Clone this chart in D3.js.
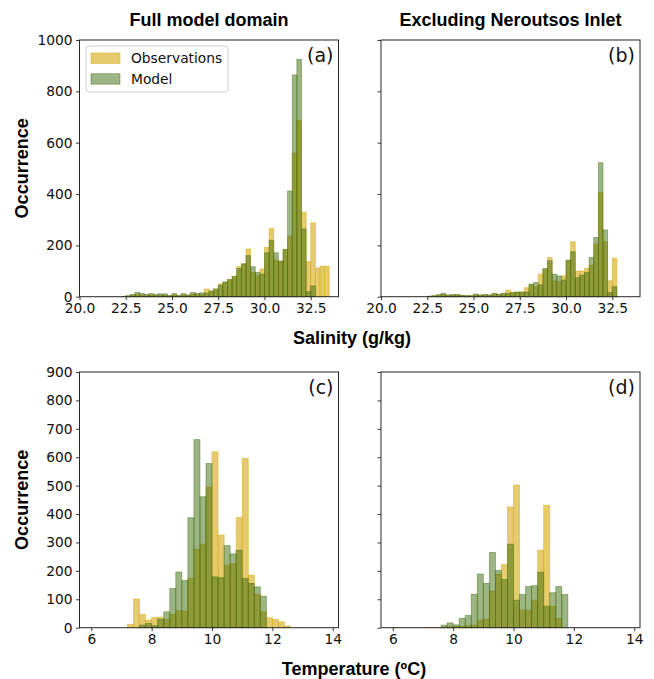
<!DOCTYPE html>
<html><head><meta charset="utf-8">
<script src="https://cdn.jsdelivr.net/npm/d3@7"></script>
<style>
html,body{margin:0;padding:0;background:#fff;}
</style></head>
<body><svg id="c" width="654" height="679"></svg>
<script>
// ---------- data ----------
const salBins = [22.25,22.5,22.75,23.0,23.25,23.5,23.75,24.0,24.25,24.5,24.75,25.0,25.25,25.5,25.75,26.0,26.25,26.5,26.75,27.0,27.25,27.5,27.75,28.0,28.25,28.5,28.75,29.0,29.25,29.5,29.75,30.0,30.25,30.5,30.75,31.0,31.25,31.5,31.75,32.0,32.25,32.5,32.75,33.0,33.25];
const salObsFull = [0,2,5,8,6,4,6,4,6,5,3,8,3,6,4,10,9,8,30,22,30,50,55,65,80,117,128,186,95,82,108,192,266,143,136,184,236,560,688,329,137,288,112,119,119];
const salModFull = [1,4,9,17,13,9,12,9,11,11,5,12,5,12,7,16,13,15,14,22,30,45,58,67,78,110,128,160,117,95,88,171,220,171,139,184,412,864,925,264,20,42,0,0,0];
const salObsExcl = [0,1,3,6,10,5,6,7,5,3,3,8,5,7,5,10,8,11,26,16,18,18,35,46,39,88,106,153,62,58,81,140,214,100,100,110,123,205,405,214,62,150,0,0,0];
const salModExcl = [0,2,4,8,13,7,8,9,6,4,4,10,7,9,7,13,10,13,13,16,18,18,18,49,55,46,110,140,88,81,65,143,175,74,84,94,153,231,522,260,16,39,0,0,0];

const tempBins = [6.0,6.2,6.4,6.6,6.8,7.0,7.2,7.4,7.6,7.8,8.0,8.2,8.4,8.6,8.8,9.0,9.2,9.4,9.6,9.8,10.0,10.2,10.4,10.6,10.8,11.0,11.2,11.4,11.6,11.8,12.0,12.2,12.4,12.6,12.8,13.0,13.2,13.4,13.6];
const tempObsFull = [0,0,0,0,0,0,12,101,47,27,36,37,29,47,60,59,173,276,294,495,619,326,220,226,388,596,185,118,56,35,29,21,6,0,0,0,0,0,0];
const tempModFull = [0,0,0,0,0,0,0,0,9,15,7,30,56,138,196,166,387,662,461,578,179,176,289,260,273,173,156,144,111,0,0,0,0,0,0,0,0,0,0];
const tempObsExcl = [1,0,0,0,0,1,1,1,2,3,4,5,7,9,26,30,129,189,223,425,502,62,62,97,273,431,76,33,0,0,0,0,0,0,0,0,0,0,0];
const tempModExcl = [0,0,0,0,0,0,0,0,9,17,10,33,43,118,189,156,265,202,170,294,97,117,145,148,195,76,123,145,117,0,0,0,0,0,0,0,0,0,0];

const salTicks = [20.0,22.5,25.0,27.5,30.0,32.5];
const tempTicks = [6,8,10,12,14];
const occTicksTop = [0,200,400,600,800,1000];
const occTicksBot = [0,100,200,300,400,500,600,700,800,900];
const seriesNames = ["Observations","Model"];
const titles = ["Full model domain","Excluding Neroutsos Inlet"];
const panelLabels = ["(a)","(b)","(c)","(d)"];

// ---------- styles ----------
const obsFill = "rgba(215,175,30,0.65)";
const modFill = "rgba(60,105,10,0.5)";
const boldFont = "'Liberation Sans', Arial, sans-serif";
const tickFont = "'DejaVu Sans', sans-serif";

const svg = d3.select("#c");
const colX = [79.5, 381];
const colW = 259;
const rows = [{top:40, bottom:296.7}, {top:372, bottom:627.7}];

const panels = [
  {r:0,c:0, bins:salBins, w:0.25, obs:salObsFull, mod:salModFull, dom:[20,34], xt:salTicks, fmt:d3.format(".1f"), ymax:1000, yt:occTicksTop, ylab:true, lab:panelLabels[0]},
  {r:0,c:1, bins:salBins, w:0.25, obs:salObsExcl, mod:salModExcl, dom:[20,34], xt:salTicks, fmt:d3.format(".1f"), ymax:1000, yt:occTicksTop, ylab:false, lab:panelLabels[1]},
  {r:1,c:0, bins:tempBins, w:0.2, obs:tempObsFull, mod:tempModFull, dom:[5.61,14.19], xt:tempTicks, fmt:d3.format("d"), ymax:900, yt:occTicksBot, ylab:true, lab:panelLabels[2]},
  {r:1,c:1, bins:tempBins, w:0.2, obs:tempObsExcl, mod:tempModExcl, dom:[5.61,14.19], xt:tempTicks, fmt:d3.format("d"), ymax:900, yt:occTicksBot, ylab:false, lab:panelLabels[3]},
];

panels.forEach(p => {
  const L = colX[p.c], R = L + colW, T = rows[p.r].top, B = rows[p.r].bottom;
  const x = d3.scaleLinear().domain(p.dom).range([L, R]);
  const y = d3.scaleLinear().domain([0, p.ymax]).range([B, T]);
  const g = svg.append("g");
  const drawBars = (vals, fill) => {
    g.append("g").selectAll("rect").data(p.bins.map((b,i)=>({b, v:vals[i]})).filter(d=>d.v>0))
      .join("rect")
      .attr("x", d => x(d.b))
      .attr("width", d => x(d.b + p.w) - x(d.b))
      .attr("y", d => y(d.v))
      .attr("height", d => y(0) - y(d.v))
      .attr("fill", fill)
      .attr("stroke", fill)
      .attr("stroke-width", 0.8);
  };
  drawBars(p.obs, obsFill);
  drawBars(p.mod, modFill);

  g.append("rect").attr("x", L).attr("y", T).attr("width", R-L).attr("height", B-T)
    .attr("fill","none").attr("stroke","#262626").attr("stroke-width",1);

  const xa = g.append("g").attr("transform", `translate(0,${B})`)
    .call(d3.axisBottom(x).tickValues(p.xt).tickFormat(p.fmt).tickSize(3.5).tickPadding(3.5));
  const ya = g.append("g").attr("transform", `translate(${L},0)`)
    .call(d3.axisLeft(y).tickValues(p.yt).tickFormat(p.ylab ? d3.format("d") : () => "").tickSize(3.5).tickPadding(3.5));
  [xa, ya].forEach(a => {
    a.attr("font-family", null).attr("font-size", null);
    a.select(".domain").remove();
    a.selectAll("line").attr("stroke","#262626").attr("stroke-width",0.9);
    a.selectAll("text").style("font-family", tickFont).style("font-size","13.8px").attr("fill","#111");
  });

  g.append("text").attr("x", R - 5).attr("y", T + 22).attr("text-anchor","end")
    .style("font-family", tickFont).style("font-size","19px").attr("fill","#111").text(p.lab);

  if (p.ylab) {
    g.append("text").attr("transform", `translate(28,${(T+B)/2}) rotate(-90)`)
      .attr("text-anchor","middle").style("font-family", boldFont)
      .style("font-weight","bold").style("font-size","18px").attr("fill","#000").text("Occurrence");
  }
});

titles.forEach((t,i) => {
  svg.append("text").attr("x", colX[i] + colW/2).attr("y", 26).attr("text-anchor","middle")
    .style("font-family", boldFont).style("font-weight","bold")
    .style("font-size","18px").attr("fill","#000").text(t);
});
svg.append("text").attr("x", 352).attr("y", 344).attr("text-anchor","middle")
  .style("font-family", boldFont).style("font-weight","bold")
  .style("font-size","18px").attr("fill","#000").text("Salinity (g/kg)");
svg.append("text").attr("x", 354).attr("y", 675).attr("text-anchor","middle")
  .style("font-family", boldFont).style("font-weight","bold")
  .style("font-size","18px").attr("fill","#000").text("Temperature (ºC)");

// legend
const lg = svg.append("g");
lg.append("rect").attr("x",86).attr("y",46).attr("width",142).attr("height",46).attr("rx",3)
  .attr("fill","rgba(255,255,255,0.8)").attr("stroke","#cccccc").attr("stroke-width",1);
[obsFill, modFill].forEach((f,i) => {
  lg.append("rect").attr("x",91).attr("y",53 + i*20.7).attr("width",29).attr("height",10.5)
    .attr("fill",f).attr("stroke",f).attr("stroke-width",0.8);
  lg.append("text").attr("x",131).attr("y",63 + i*20.7).style("font-family", tickFont)
    .style("font-size","13.8px").attr("fill","#111").text(seriesNames[i]);
});
</script></body></html>
